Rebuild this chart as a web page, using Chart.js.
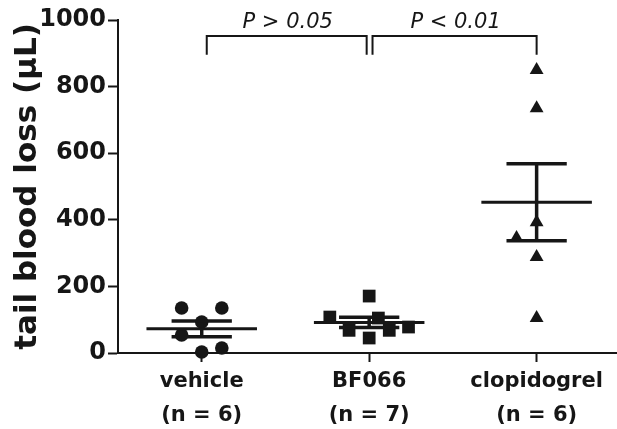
<!DOCTYPE html>
<html>
<head>
<meta charset="utf-8">
<script src="https://cdn.jsdelivr.net/npm/chart.js@4.4.1/dist/chart.umd.min.js"></script>
<style>
  html, body { margin: 0; padding: 0; background: #ffffff; }
  #wrap { width: 617px; height: 429px; position: relative; }
</style>
</head>
<body>
<div id="wrap"><canvas id="c"></canvas></div>
<script>
// ---- data ----
const groups = ["vehicle", "BF066", "clopidogrel"];
const groupCounts = ["(n = 6)", "(n = 7)", "(n = 6)"];
const vehicleValues = [135, 135, 93, 54, 3, 15];
const vehicleJitter = [-0.12, 0.12, 0.0, -0.12, 0.0, 0.12];
const bf066Values = [171, 108, 68, 45, 105, 68, 78];
const bf066Jitter = [0.0, -0.235, -0.12, 0.0, 0.055, 0.12, 0.235];
const clopidogrelValues = [850, 735, 393, 345, 288, 105];
const clopidogrelJitter = [0.0, 0.0, 0.0, -0.12, 0.0, 0.0];
const yTicks = [0, 200, 400, 600, 800, 1000];
const comparisons = [
  { from: 0, to: 1, label: "P > 0.05" },
  { from: 1, to: 2, label: "P < 0.01" }
];

const INK = "#161616";
const FONT = "'DejaVu Sans', 'Liberation Sans', Arial, sans-serif";

function mean(a) { return a.reduce((s, v) => s + v, 0) / a.length; }
function sem(a) {
  const m = mean(a);
  const v = a.reduce((s, x) => s + (x - m) * (x - m), 0) / (a.length - 1);
  return Math.sqrt(v / a.length);
}

const seriesValues = [vehicleValues, bf066Values, clopidogrelValues];
const seriesJitter = [vehicleJitter, bf066Jitter, clopidogrelJitter];
const seriesShapes = ["circle", "rect", "triangle"];
const seriesRadius = [6.8, 9, 8];

const datasets = [];
seriesValues.forEach((vals, gi) => {
  datasets.push({
    label: groups[gi],
    data: vals.map((v, i) => ({ x: gi + seriesJitter[gi][i], y: v })),
    pointStyle: seriesShapes[gi],
    pointRadius: seriesRadius[gi],
    pointHoverRadius: seriesRadius[gi],
    backgroundColor: INK,
    borderColor: INK,
    borderWidth: 0,
    showLine: false,
    clip: false,
    order: 2
  });
});
// mean and SEM lines
const MEAN_HALF = 0.33, CAP_HALF = 0.18;
seriesValues.forEach((vals, gi) => {
  const m = mean(vals), s = sem(vals);
  const lineDs = (pts, w) => ({
    data: pts, showLine: true, pointRadius: 0, pointHoverRadius: 0,
    borderColor: INK, borderWidth: w, backgroundColor: INK, order: 1, fill: false
  });
  datasets.push(lineDs([{ x: gi - MEAN_HALF, y: m }, { x: gi + MEAN_HALF, y: m }], 3));
  datasets.push(lineDs([{ x: gi - CAP_HALF, y: m + s }, { x: gi + CAP_HALF, y: m + s }], 3.5));
  datasets.push(lineDs([{ x: gi - CAP_HALF, y: m - s }, { x: gi + CAP_HALF, y: m - s }], 3.5));
  datasets.push(lineDs([{ x: gi, y: m - s }, { x: gi, y: m + s }], 3.5));
});

const bracketPlugin = {
  id: "brackets",
  afterDatasetsDraw(chart) {
    const { ctx, scales } = chart;
    const xs = scales.x, ys = scales.y;
    const yTop = ys.getPixelForValue(952);
    const yBot = ys.getPixelForValue(896);
    const yText = ys.getPixelForValue(975);
    ctx.save();
    ctx.strokeStyle = INK;
    ctx.lineWidth = 2;
    ctx.fillStyle = INK;
    ctx.font = "oblique 21px " + FONT;
    ctx.textAlign = "center";
    ctx.textBaseline = "alphabetic";
    comparisons.forEach(c => {
      const x1 = xs.getPixelForValue(c.from + (c.from === 0 ? 0.03 : 0.02));
      const x2 = xs.getPixelForValue(c.to - (c.to === 2 ? 0 : 0.015));
      ctx.beginPath();
      ctx.moveTo(x1, yBot);
      ctx.lineTo(x1, yTop);
      ctx.lineTo(x2, yTop);
      ctx.lineTo(x2, yBot);
      ctx.stroke();
      ctx.fillText(c.label, (x1 + x2) / 2 + 1, yText);
    });
    ctx.restore();
  }
};

new Chart(document.getElementById("c"), {
  type: "scatter",
  data: { datasets },
  options: {
    responsive: true,
    maintainAspectRatio: false,
    animation: false,
    events: [],
    layout: { autoPadding: false, padding: { top: 20, right: 0, left: 0, bottom: 0 } },
    plugins: { legend: { display: false }, tooltip: { enabled: false } },
    scales: {
      x: {
        type: "linear",
        min: -0.5,
        max: 2.48,
        afterBuildTicks(scale) { scale.ticks = groups.map((g, i) => ({ value: i })); },
        afterFit(scale) { scale.height = 76; scale.paddingLeft = 0; scale.paddingRight = 0; },
        ticks: {
          callback: (v) => [groups[v], groupCounts[v]],
          color: INK,
          padding: 2,
          maxRotation: 0,
          autoSkip: false,
          font: { family: FONT, size: 21, weight: "bold", lineHeight: 1.65 }
        },
        grid: { drawOnChartArea: false, drawTicks: true, tickLength: 9, tickWidth: 2, tickColor: INK },
        border: { display: true, color: INK, width: 2 }
      },
      y: {
        min: 0,
        max: 1000,
        afterBuildTicks(scale) { scale.ticks = yTicks.map(v => ({ value: v })); },
        afterFit(scale) { scale.width = 118; },
        ticks: {
          callback: (v) => String(v),
          color: INK,
          padding: 2,
          font: { family: FONT, size: 24, weight: "bold" }
        },
        title: {
          display: true,
          text: "tail blood loss (µL)",
          color: INK,
          padding: { top: 9, bottom: 0 },
          font: { family: FONT, size: 31, weight: "bold" }
        },
        grid: { drawOnChartArea: false, drawTicks: true, tickLength: 10, tickWidth: 2, tickColor: INK },
        border: { display: true, color: INK, width: 2 }
      }
    }
  },
  plugins: [bracketPlugin]
});
</script>
</body>
</html>
